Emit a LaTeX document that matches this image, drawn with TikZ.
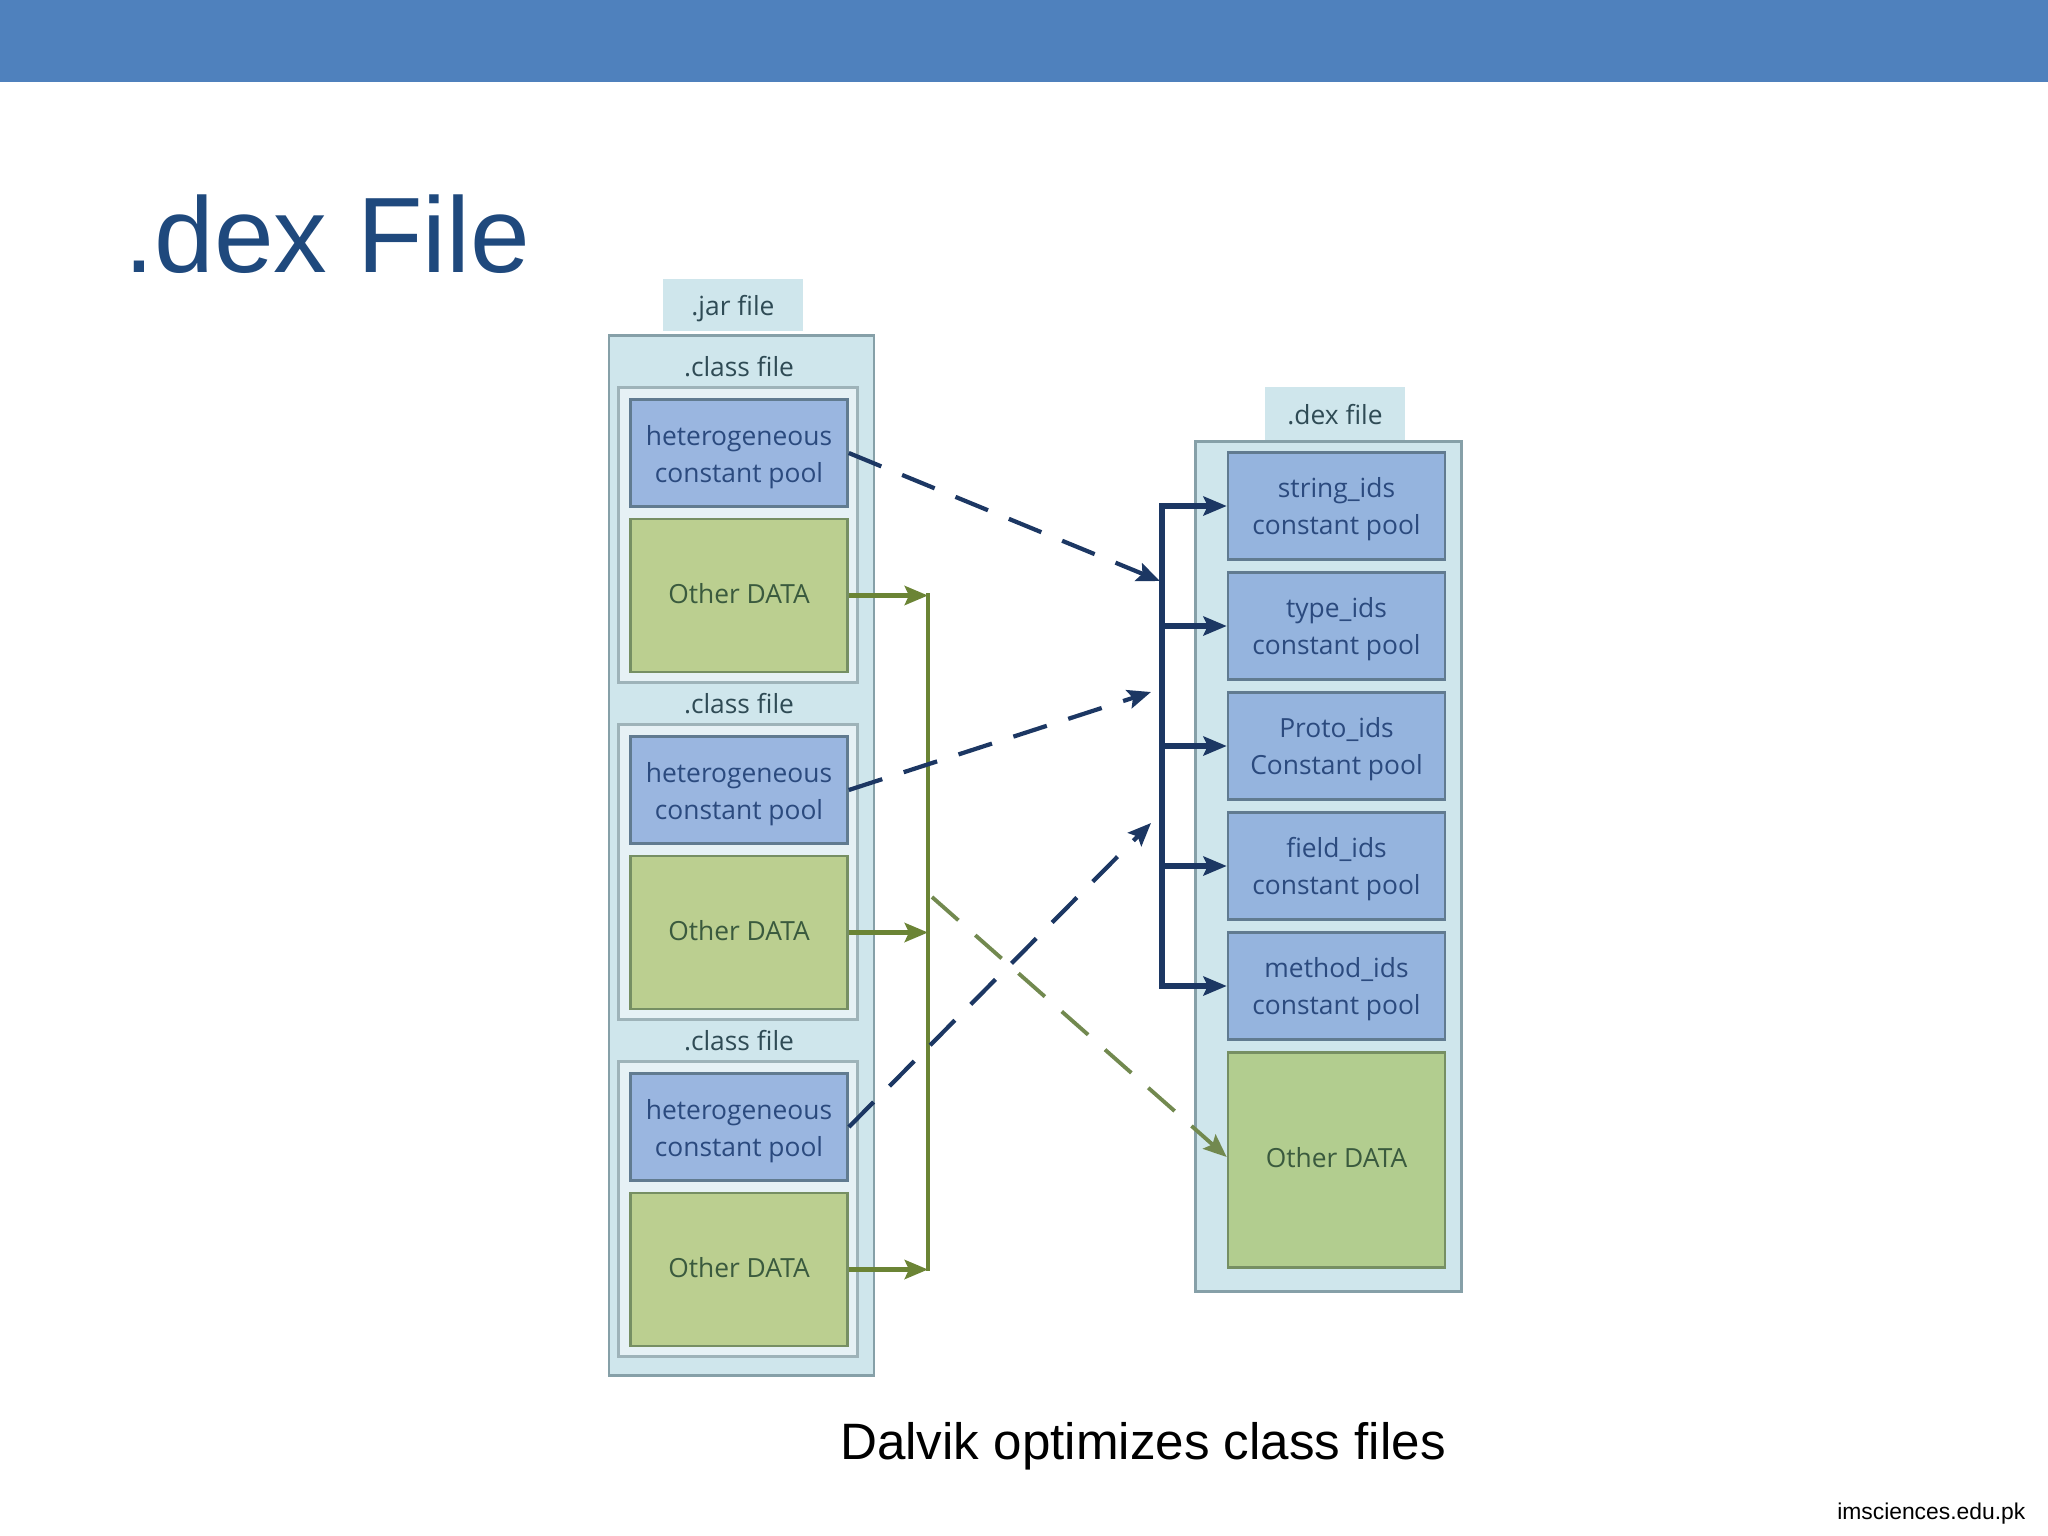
\documentclass[tikz,border=0pt]{standalone}
\usepackage{fontspec}
\setmainfont{Liberation Sans}
\newfontfamily\boxfont{Open Sans}
\usepackage{xcolor}
\usepackage{tikz}
\usetikzlibrary{%
	arrows.meta,
	positioning,
	calc
}
\definecolor{headblue}{HTML}{4F81BD}
\definecolor{titleblue}{HTML}{1F497D}
\definecolor{palecyan}{HTML}{CFE6EC}
\definecolor{paleframe}{HTML}{E6F1F5}
\definecolor{edgegray}{HTML}{86A0A8}
\definecolor{poolblue}{HTML}{9AB6E0}
\definecolor{pooldex}{HTML}{95B4DE}
\definecolor{dataold}{HTML}{BBCF90}
\definecolor{datadex}{HTML}{B2CD8F}
\definecolor{navy}{HTML}{1C3763}
\definecolor{olive}{HTML}{6B8435}
\definecolor{dashgreen}{HTML}{72894F}
\definecolor{pooltext}{HTML}{2B4A7E}
\definecolor{datatext}{HTML}{3A5A3E}
\definecolor{labeltext}{HTML}{2F4B55}
\newcommand{\lowstrut}[1]{\rule{0pt}{#1}}
\tikzset{headtip/.tip={Stealth[length=6.6pt,width=5.4pt,inset=1.2pt]}}
\tikzstyle{boxtext}=[font=\boxfont\fontsize{7.5}{10.4}\selectfont, align=center, inner sep=0pt]
\tikzstyle{tag}=[boxtext, fill=palecyan, text=labeltext]
\tikzstyle{outer}=[draw=edgegray, line width=0.8pt, fill=palecyan]
\tikzstyle{frame}=[draw=edgegray!80, line width=0.7pt, fill=paleframe]
\tikzstyle{pool}=[boxtext, draw=edgegray!65!navy, line width=0.7pt, fill=poolblue, text=pooltext, minimum width=2.17cm, minimum height=1.07cm]
\tikzstyle{data}=[boxtext, draw=olive!60!edgegray, line width=0.7pt, fill=dataold, text=datatext, minimum width=2.17cm, text depth=1pt]
\tikzstyle{navyedge}=[draw=navy, line width=1.7pt, -headtip]
\tikzstyle{navydash}=[draw=navy, line width=1.2pt, -headtip, dash pattern=on 10pt off 6.4pt]
\tikzstyle{oliveedge}=[draw=olive, line width=1.6pt, -headtip]
\tikzstyle{olivedash}=[draw=dashgreen, line width=1.1pt, -headtip, dash pattern=on 10pt off 6.4pt]
\begin{document}
\begin{tikzpicture}[x=0.01cm,y=-0.01cm]
	\useasboundingbox (0,0) rectangle (2048,1536);

	% Slide head
	\fill[headblue] (0,0) rectangle (2048,82);
	\node[anchor=base west, inner sep=0pt, text=titleblue, font=\fontsize{30.5}{36}\selectfont] (title) at (124,272) {.dex File};

	% First we draw the jar side
	\node[tag, minimum width=1.4cm, minimum height=0.52cm] (jartag) at (733,305) {\lowstrut{7.9pt}.jar file};
	\node[outer, minimum width=2.65cm, minimum height=10.39cm] (jar) at (741.5,855.5) {};
	\foreach \row/\off in {1/0, 2/337, 3/674} {
		\node[boxtext, text=labeltext] (class\row) at (739,366.5+\off) {.class file};
		\node[frame, minimum width=2.39cm, minimum height=2.95cm] (frame\row) at (738,535+\off) {};
		\node[pool] (hetero\row) at (739,453+\off) {\lowstrut{8pt}heterogeneous\\constant pool};
		\node[data, minimum height=1.53cm] (other\row) at (739,595.5+\off) {Other DATA};
	}

	% First we draw the dex side
	\node[tag, minimum width=1.4cm, minimum height=0.54cm] (dextag) at (1335,414.5) {.dex file};
	\node[outer, minimum width=2.66cm, minimum height=8.49cm] (dex) at (1328.5,866.5) {};
	\foreach \name/\first/\second/\ypos in {
		string/string\_ids/constant pool/506,
		type/type\_ids/constant pool/626,
		proto/Proto\_ids/Constant pool/746,
		field/field\_ids/constant pool/866,
		method/method\_ids/constant pool/986
	}
	\node[pool, fill=pooldex] (\name) at (1336.5,\ypos) {\lowstrut{7.5pt}\first\\\second};
	\node[data, fill=datadex, minimum height=2.15cm, text depth=1.4pt] (dexdata) at (1336.5,1160) {Other DATA};

	% Bus points
	\coordinate (navytop) at (1162,506);
	\coordinate (navybottom) at (1162,986);
	\coordinate (olivetop) at (928,595);
	\coordinate (olivebottom) at (928,1269);
	\coordinate (olivemid) at (932,897);
	\coordinate (hit1) at (1160,581);
	\coordinate (hit2) at (1151,692);
	\coordinate (hit3) at (1151,823);

	% Connect the buses
	\draw[olive, line width=1.2pt, line cap=rect] (olivetop) -- (olivebottom);
	\foreach \source in {other1,other2,other3}
	\path[oliveedge] (\source.east) -- (olivetop |- \source.east);
	\path[olivedash] (olivemid) -- (dexdata.west |- 0,1157);

	\draw[navy, line width=1.9pt, line cap=rect] (navytop) -- (navybottom);
	\foreach \dest in {string,type,proto,field,method}
	\path[navyedge] (navytop |- \dest.west) -- (\dest.west);

	% Dashed lines towards the dex side
	\foreach \source/\dest in {hetero1/hit1, hetero2/hit2, hetero3/hit3}
	\path[navydash] (\source.east) -- (\dest);

	% Bottom texts
	\node[anchor=base, inner sep=0pt, font=\fontsize{14.55}{18}\selectfont] (caption) at (1143,1459) {Dalvik optimizes class files};
	\node[anchor=base east, inner sep=0pt, font=\fontsize{6.5}{8}\selectfont] (site) at (2026,1519) {imsciences.edu.pk};
\end{tikzpicture}
\end{document}
